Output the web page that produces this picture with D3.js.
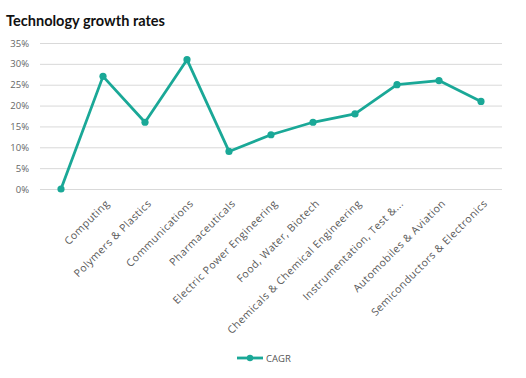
<!DOCTYPE html>
<html>
<head>
<meta charset="utf-8">
<script src="https://cdn.jsdelivr.net/npm/d3@7"></script>
<style>
  body { margin: 0; background: #fff; }
  svg { display: block; font-family: "Open Sans", sans-serif; }
</style>
</head>
<body>
<svg id="chart" width="526" height="378"></svg>
<script>
var categories = ["", "Computing", "Polymers & Plastics", "Communications", "Pharmaceuticals",
    "Electric Power Engineering", "Food, Water, Biotech", "Chemicals & Chemical Engineering",
    "Instrumentation, Test &...", "Automobiles & Aviation", "Semiconductors & Electronics"];
var cagr = [0, 27, 16, 31, 9, 13, 16, 18, 25, 26, 21];
var yTicks = [0, 5, 10, 15, 20, 25, 30, 35];

var color = "#1aa897";
var font = "'Open Sans', sans-serif";
var svg = d3.select("#chart");

var margin = {top: 43, right: 24, bottom: 189, left: 40},
    width = 526 - margin.left - margin.right,
    height = 189 - margin.top;

var x = d3.scaleBand()
    .domain(d3.range(categories.length))
    .range([margin.left, margin.left + width]);

var y = d3.scaleLinear()
    .domain([0, 35])
    .range([margin.top + height, margin.top]);

svg.append("text")
    .attr("x", 6).attr("y", 26)
    .attr("font-family", "Lato, sans-serif")
    .attr("font-size", 14.5).attr("font-weight", "bold")
    .attr("fill", "#111")
    .attr("textLength", 159)
    .attr("lengthAdjust", "spacingAndGlyphs")
    .text("Technology growth rates");

//grid + y labels
var yAxis = d3.axisLeft(y)
    .tickValues(yTicks)
    .tickSize(-width)
    .tickFormat(function (d) { return d + "%"; });

var gy = svg.append("g")
    .attr("transform", "translate(" + margin.left + ",0)")
    .call(yAxis);
gy.attr("font-family", font);
gy.select(".domain").remove();
gy.selectAll(".tick line").attr("stroke", "#d9d9d9");
gy.selectAll(".tick text")
    .attr("x", -11)
    .attr("fill", "#666")
    .attr("font-size", 9.5);

//x labels
var xAxis = d3.axisBottom(x)
    .tickSize(0)
    .tickFormat(function (i) { return categories[i]; });

var gx = svg.append("g")
    .attr("transform", "translate(0," + (margin.top + height) + ")")
    .call(xAxis);
gx.attr("font-family", font);
gx.select(".domain").remove();
gx.selectAll(".tick text")
    .attr("fill", "#595959")
    .attr("font-size", 10.5)
    .attr("letter-spacing", 0.5)
    .attr("text-anchor", "end")
    .attr("dy", 0)
    .attr("transform", "translate(5,13) rotate(-45)");

//line
var line = d3.line()
    .x(function (d, i) { return x(i) + x.bandwidth() / 2; })
    .y(function (d) { return y(d); });

svg.append("path")
    .datum(cagr)
    .attr("fill", "none")
    .attr("stroke", color)
    .attr("stroke-width", 2.8)
    .attr("stroke-linejoin", "round")
    .attr("d", line);

svg.selectAll(".pt")
    .data(cagr)
    .enter().append("circle")
    .attr("class", "pt")
    .attr("cx", function (d, i) { return x(i) + x.bandwidth() / 2; })
    .attr("cy", function (d) { return y(d); })
    .attr("r", 3.6)
    .attr("fill", color);

//legend
var lg = svg.append("g").attr("transform", "translate(237,358)");
lg.append("line").attr("x1", 0).attr("x2", 26)
    .attr("stroke", color).attr("stroke-width", 2.8);
lg.append("circle").attr("cx", 13).attr("r", 3.2).attr("fill", color);
lg.append("text").attr("x", 29).attr("y", 3.5)
    .attr("font-size", 9.5).attr("fill", "#555").text("CAGR");
</script>
</body>
</html>
